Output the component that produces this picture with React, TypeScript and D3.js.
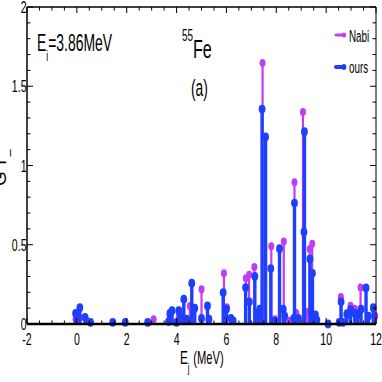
import React from "react";
import * as d3 from "d3";

const nabiE = [-0.05, 0.12, 0.4, 3.08, 3.73, 4.09, 4.53, 5.0, 5.9, 6.02, 6.78, 6.91, 7.12, 7.45, 7.8, 7.95, 8.3, 8.52, 8.73, 8.8, 9.07, 9.24, 9.34, 9.44, 10.59, 10.83, 10.98, 11.15, 11.38, 11.97];
const nabiGT = [0.03, 0.04, 0.02, 0.03, 0.05, 0.05, 0.114, 0.219, 0.32, 0.105, 0.288, 0.31, 0.36, 1.647, 0.49, 0.03, 0.52, 0.02, 0.894, 0.07, 1.337, 0.078, 0.473, 0.507, 0.17, 0.07, 0.115, 0.097, 0.23, 0.05];

const oursE = [-0.05, 0.12, 0.33, 0.55, 1.44, 1.94, 2.84, 3.68, 3.73, 3.82, 4.0, 4.09, 4.2, 4.29, 4.4, 4.61, 4.73, 5.0, 5.24, 5.3, 5.87, 6.0, 6.18, 6.27, 6.77, 6.92, 7.14, 7.23, 7.34, 7.43, 7.57, 7.78, 7.92, 8.13, 8.28, 8.34, 8.7, 8.73, 8.89, 9.11, 9.13, 9.35, 9.45, 9.57, 9.63, 10.08, 10.52, 10.6, 10.67, 10.83, 10.98, 11.15, 11.26, 11.4, 11.6, 11.7, 11.89];
const oursGT = [0.067, 0.103, 0.042, 0.01, 0.01, 0.01, 0.01, 0.015, 0.067, 0.084, 0.01, 0.084, 0.04, 0.156, 0.03, 0.257, 0.1, 0.035, 0.114, 0.03, 0.198, 0.093, 0.036, 0.02, 0.23, 0.14, 0.3, 0.067, 0.093, 1.356, 1.18, 0.35, 0.02, 0.475, 0.093, 0.05, 0.036, 0.763, 0.036, 0.58, 1.213, 0.41, 0.32, 0.057, 0.025, 0.0, 0.01, 0.14, 0.01, 0.06, 0.09, 0.067, 0.06, 0.093, 0.227, 0.05, 0.103];

const xMajor = [-2, 0, 2, 4, 6, 8, 10, 12];
const yMajor = [0, 0.5, 1, 1.5, 2];
const yLabels = ["0", "0.5", "1", "1.5", "2"];

const NABI = "#c23cf5";
const OURS = "#1f3fff";
const FONT = "'Liberation Sans', Arial, sans-serif";

function NT({ x, y, sx = 0.62, size, anchor = "start", children }: any) {
  return (
    <text transform={`translate(${x},${y}) scale(${sx},1)`} fontSize={size} textAnchor={anchor}>
      {children}
    </text>
  );
}

export default function App() {
  const W = 382, H = 382;
  const L = 27, R = 376, T = 7, B = 324;
  const x = d3.scaleLinear().domain([-2, 12]).range([L, R]);
  const y = d3.scaleLinear().domain([0, 2]).range([B, T]);
  const xMinor = d3.range(-2, 12.001, 0.5);
  const yMinor = d3.range(0, 2.001, 0.1);

  const nabi = nabiE.map((e, i) => ({ e, v: nabiGT[i] }));
  const ours = oursE.map((e, i) => ({ e, v: oursGT[i] }));

  return (
    <svg width={W} height={H} style={{ position: "absolute", left: 0, top: 0, background: "#fff" }} fontFamily={FONT}>
      <rect x={0} y={0} width={W} height={H} fill="#fff" />
      {nabi.map((d, i) => (
        <g key={"n" + i}>
          <line x1={x(d.e)} x2={x(d.e)} y1={y(0)} y2={y(d.v)} stroke={NABI} strokeWidth={2.2} />
          <ellipse cx={x(d.e)} cy={y(d.v)} rx={3} ry={4} fill={NABI} />
        </g>
      ))}
      {ours.map((d, i) => (
        <g key={"o" + i}>
          <line x1={x(d.e)} x2={x(d.e)} y1={y(0)} y2={y(d.v)} stroke={OURS} strokeWidth={3.4} />
          <ellipse cx={x(d.e)} cy={y(d.v)} rx={3.4} ry={4.4} fill={OURS} />
        </g>
      ))}
      {/* frame */}
      <line x1={L} x2={R} y1={B} y2={B} stroke="#000" strokeWidth={2.5} />
      <line x1={L} x2={L} y1={T} y2={B} stroke="#000" strokeWidth={1.5} />
      <line x1={L} x2={R} y1={T} y2={T} stroke="#000" strokeWidth={1.5} />
      <line x1={R} x2={R} y1={T} y2={B} stroke="#000" strokeWidth={1} />
      {xMinor.map((t, i) => {
        const major = xMajor.some((m) => Math.abs(m - t) < 1e-6);
        const len = major ? 6 : 3.5;
        return (
          <g key={"xt" + i}>
            <line x1={x(t)} x2={x(t)} y1={B} y2={B - len} stroke="#000" strokeWidth={1} />
            <line x1={x(t)} x2={x(t)} y1={T} y2={T + len} stroke="#000" strokeWidth={1} />
          </g>
        );
      })}
      {yMinor.map((t, i) => {
        const major = yMajor.some((m) => Math.abs(m - t) < 1e-6);
        const len = major ? 6 : 3.5;
        return (
          <g key={"yt" + i}>
            <line x1={L} x2={L + len} y1={y(t)} y2={y(t)} stroke="#000" strokeWidth={1} />
            <line x1={R} x2={R - len} y1={y(t)} y2={y(t)} stroke="#000" strokeWidth={1} />
          </g>
        );
      })}
      {xMajor.map((t, i) => (
        <NT key={"xl" + i} x={x(t)} y={345} size={17} sx={0.62} anchor="middle">{String(t)}</NT>
      ))}
      {yMajor.map((t, i) => (
        <NT key={"yl" + i} x={L - 0.5} y={y(t) + 6} size={17} sx={0.62} anchor="end">{yLabels[i]}</NT>
      ))}
      {/* axis titles */}
      <NT x={180} y={364} size={19} sx={0.62}>E<tspan dy={8} fontSize={13}>j</tspan><tspan dy={-8} dx={6} fontSize={18}>(MeV)</tspan></NT>
      <text transform="translate(6,186) rotate(-90)" fontSize={19}>G<tspan dx={3}>T</tspan><tspan dy={8} fontSize={13}>–</tspan></text>
      {/* annotations */}
      <NT x={37} y={51} size={24} sx={0.58}>E<tspan dy={10} fontSize={15}>i</tspan><tspan dy={-10}>=3.86MeV</tspan></NT>
      <NT x={182} y={58} size={26} sx={0.62}><tspan dy={-17} fontSize={16}>55</tspan><tspan dy={17}>Fe</tspan></NT>
      <NT x={191} y={96} size={23} sx={0.6}>(a)</NT>
      {/* legend */}
      <line x1={336} x2={344} y1={35} y2={35} stroke={NABI} strokeWidth={3} strokeLinecap="round" />
      <ellipse cx={344} cy={35} rx={2.2} ry={2.6} fill={NABI} />
      <NT x={349} y={42} size={17} sx={0.58}>Nabi</NT>
      <line x1={336} x2={344} y1={67} y2={67} stroke={OURS} strokeWidth={4} strokeLinecap="round" />
      <ellipse cx={344} cy={67} rx={2.4} ry={3} fill={OURS} />
      <NT x={349} y={73} size={17} sx={0.58}>ours</NT>
    </svg>
  );
}
